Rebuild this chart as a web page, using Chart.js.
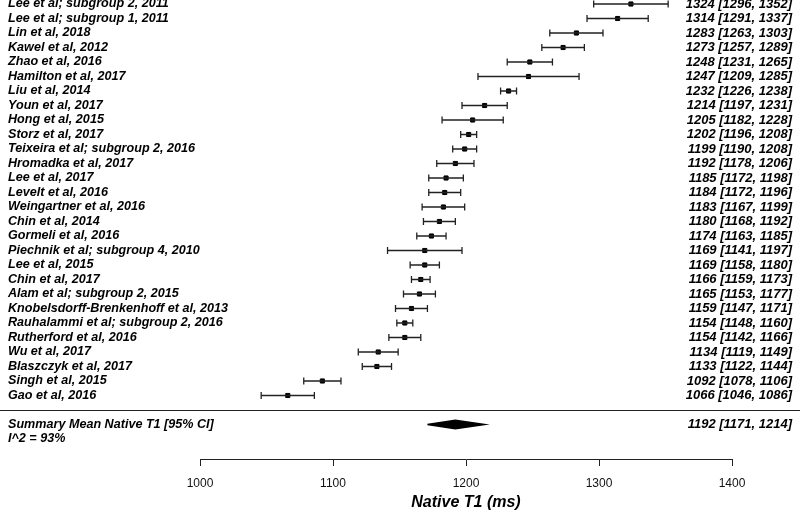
<!DOCTYPE html>
<html>
<head>
<meta charset="utf-8">
<script src="https://cdn.jsdelivr.net/npm/chart.js@4"></script>
<style>
  body { margin: 0; background: #fff; }
  #wrap { width: 800px; height: 513px; position: relative; }
</style>
</head>
<body>
<div id="wrap"><canvas id="forest"></canvas></div>
<script>
// studies, top to bottom
const studies = [
  'Lee et al; subgroup 2, 2011', 'Lee et al; subgroup 1, 2011', 'Lin et al, 2018', 'Kawel et al, 2012',
  'Zhao et al, 2016', 'Hamilton et al, 2017', 'Liu et al, 2014', 'Youn et al, 2017', 'Hong et al, 2015',
  'Storz et al, 2017', 'Teixeira et al; subgroup 2, 2016', 'Hromadka et al, 2017', 'Lee et al, 2017',
  'Levelt et al, 2016', 'Weingartner et al, 2016', 'Chin et al, 2014', 'Gormeli et al, 2016',
  'Piechnik et al; subgroup 4, 2010', 'Lee et al, 2015', 'Chin et al, 2017', 'Alam et al; subgroup 2, 2015',
  'Knobelsdorff-Brenkenhoff et al, 2013', 'Rauhalammi et al; subgroup 2, 2016', 'Rutherford et al, 2016',
  'Wu et al, 2017', 'Blaszczyk et al, 2017', 'Singh et al, 2015', 'Gao et al, 2016'
];
const means = [1324, 1314, 1283, 1273, 1248, 1247, 1232, 1214, 1205, 1202, 1199, 1192, 1185, 1184,
  1183, 1180, 1174, 1169, 1169, 1166, 1165, 1159, 1154, 1154, 1134, 1133, 1092, 1066];
const lower = [1296, 1291, 1263, 1257, 1231, 1209, 1226, 1197, 1182, 1196, 1190, 1178, 1172, 1172,
  1167, 1168, 1163, 1141, 1158, 1159, 1153, 1147, 1148, 1142, 1119, 1122, 1078, 1046];
const upper = [1352, 1337, 1303, 1289, 1265, 1285, 1238, 1231, 1228, 1208, 1208, 1206, 1198, 1196,
  1199, 1192, 1185, 1197, 1180, 1173, 1177, 1171, 1160, 1166, 1149, 1144, 1106, 1086];

// summary estimate
const summary = [1192, 1171, 1214];
const summaryLabel = 'Summary Mean Native T1 [95% CI]';
const heterogeneity = 'I^2 = 93%';

const xTicks = [1000, 1100, 1200, 1300, 1400];
const xTitle = 'Native T1 (ms)';

const FONT = "'Liberation Sans', Arial, sans-serif";
const summaryRow = studies.length + 1;

// CI segments, broken with null points
const ciData = [];
for (let i = 0; i < studies.length; i++) {
  ciData.push({x: lower[i], y: i}, {x: upper[i], y: i}, {x: null, y: null});
}
const meanData = means.map((m, i) => ({x: m, y: i}));
const diamond = [
  {x: summary[1], y: summaryRow}, {x: summary[0], y: summaryRow - 0.3},
  {x: summary[2], y: summaryRow}, {x: summary[0], y: summaryRow + 0.3},
  {x: summary[1], y: summaryRow}
];

function fmt(m, l, u) { return m + ' [' + l + ', ' + u + ']'; }

const textPlugin = {
  id: 'forestText',
  afterDraw(chart) {
    const ctx = chart.ctx;
    const ys = chart.scales.y;
    const leftFont = 'italic bold 12.6px ' + FONT;
    const rightFont = 'italic bold 13px ' + FONT;
    ctx.save();
    ctx.fillStyle = '#000';
    ctx.textBaseline = 'middle';
    studies.forEach((s, i) => {
      const y = ys.getPixelForValue(i);
      ctx.font = leftFont;
      ctx.textAlign = 'left';
      ctx.fillText(s, 8, y);
      ctx.font = rightFont;
      ctx.textAlign = 'right';
      ctx.fillText(fmt(means[i], lower[i], upper[i]), 792, y);
    });
    const sy = ys.getPixelForValue(summaryRow);
    ctx.font = leftFont;
    ctx.textAlign = 'left';
    ctx.fillText(summaryLabel, 8, sy);
    ctx.fillText(heterogeneity, 8, ys.getPixelForValue(summaryRow + 1));
    ctx.font = rightFont;
    ctx.textAlign = 'right';
    ctx.fillText(fmt(summary[0], summary[1], summary[2]), 792, sy);
    // separator line
    const ly = Math.round(ys.getPixelForValue(studies.length)) + 0.5;
    ctx.strokeStyle = '#222';
    ctx.lineWidth = 1;
    ctx.beginPath();
    ctx.moveTo(0, ly);
    ctx.lineTo(chart.width, ly);
    ctx.stroke();
    ctx.restore();
  }
};

new Chart(document.getElementById('forest'), {
  type: 'line',
  data: {
    datasets: [
      {
        data: ciData,
        borderColor: '#222',
        borderWidth: 1.3,
        pointStyle: 'line',
        pointRotation: 90,
        pointRadius: 3.5,
        pointBorderWidth: 1.3,
        pointBorderColor: '#222',
        spanGaps: false,
        clip: false
      },
      {
        type: 'scatter',
        data: meanData,
        pointStyle: 'rect',
        pointRadius: 2.9,
        backgroundColor: '#000',
        borderColor: '#000',
        clip: false
      },
      {
        data: diamond,
        borderColor: '#000',
        backgroundColor: '#000',
        borderWidth: 1.5,
        pointRadius: 0,
        fill: 'shape',
        clip: false
      }
    ]
  },
  options: {
    responsive: true,
    maintainAspectRatio: false,
    animation: false,
    layout: { autoPadding: false, padding: { left: 200, right: 68, top: 0, bottom: 0 } },
    plugins: { legend: { display: false }, tooltip: { enabled: false } },
    scales: {
      x: {
        type: 'linear',
        min: 1000,
        max: 1400,
        afterBuildTicks(scale) { scale.ticks = xTicks.map(v => ({value: v})); },
        afterFit(scale) { scale.height = 54; },
        grid: { drawOnChartArea: false, drawTicks: true, tickLength: 7, color: '#222', lineWidth: 1 },
        border: { display: true, color: '#222', width: 1 },
        ticks: {
          color: '#111',
          padding: 10,
          font: { family: FONT, size: 12 },
          callback: v => String(v)
        },
        title: {
          display: true,
          text: xTitle,
          color: '#000',
          padding: { top: 0, bottom: 1 },
          font: { family: FONT, size: 16, weight: 'bold', style: 'italic' }
        }
      },
      y: {
        type: 'linear',
        reverse: true,
        min: -0.276,
        max: 31.38,
        display: false
      }
    }
  },
  plugins: [textPlugin]
});
</script>
</body>
</html>
